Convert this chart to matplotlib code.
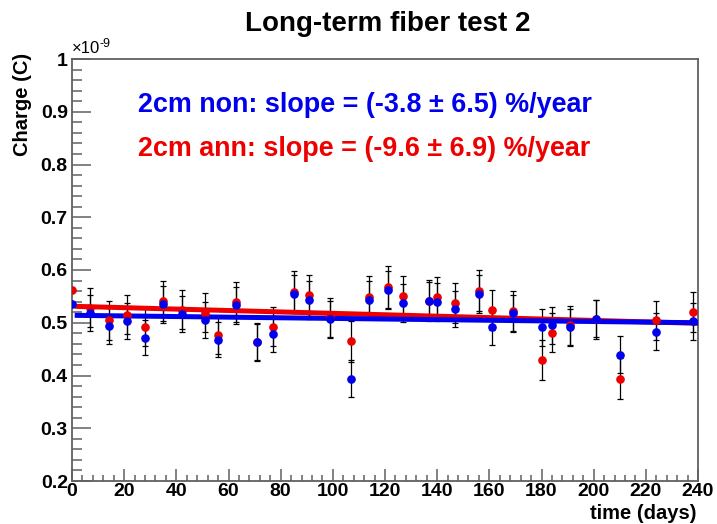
import matplotlib
matplotlib.use("Agg")
from matplotlib import pyplot as plt
from matplotlib.ticker import MultipleLocator, FuncFormatter

plt.rcParams['font.family'] = ['Liberation Sans', 'DejaVu Sans']
plt.rcParams['font.weight'] = 'bold'

# time of each measurement (days)
days = [0, 7, 14, 21, 28, 35, 42, 51, 56, 63, 71, 77, 85, 91, 99, 107,
        114, 121, 127, 137, 140, 147, 156, 161, 169, 180, 184, 191, 201, 210, 224, 238]

# charge in units of 1e-9 C
charge_non = [0.536, 0.518, 0.494, 0.503, 0.472, 0.535, 0.517, 0.505, 0.468, 0.533, 0.463, 0.478,
              0.554, 0.543, 0.507, 0.394, 0.544, 0.563, 0.538, 0.541, 0.539, 0.526, 0.554, 0.491,
              0.518, 0.491, 0.495, 0.491, 0.508, 0.439, 0.483, 0.503]
charge_ann = [0.563, 0.528, 0.505, 0.515, 0.492, 0.541, 0.525, 0.519, 0.476, 0.539, 0.463, 0.492,
              0.559, 0.552, 0.510, 0.465, 0.549, 0.568, 0.550, 0.542, 0.548, 0.537, 0.561, 0.524,
              0.523, 0.430, 0.481, 0.495, 0.507, 0.394, 0.505, 0.520]
err_non = [0.0, 0.034, 0.034, 0.034, 0.033, 0.035, 0.034, 0.034, 0.033, 0.035, 0.034, 0.034,
           0.036, 0.036, 0.035, 0.035, 0.036, 0.036, 0.036, 0.036, 0.036, 0.035, 0.036, 0.034,
           0.035, 0.035, 0.035, 0.035, 0.035, 0.035, 0.035, 0.035]
err_ann = [0.0, 0.037, 0.037, 0.037, 0.036, 0.038, 0.037, 0.037, 0.036, 0.038, 0.036, 0.037,
           0.039, 0.039, 0.037, 0.039, 0.039, 0.040, 0.039, 0.039, 0.039, 0.038, 0.039, 0.038,
           0.038, 0.038, 0.037, 0.037, 0.037, 0.039, 0.037, 0.038]

# linear fit ranges and end values
fit_days = [2, 240]
fit_non = [0.514, 0.500]
fit_ann = [0.531, 0.499]

W, H = 717, 524
fig = plt.figure(figsize=(W / 100, H / 100), dpi=100)
ax = fig.add_axes([72 / W, 1 - 481 / H, 626 / W, 422 / H])

ax.errorbar(days, charge_ann, yerr=err_ann, fmt='none', ecolor='black', elinewidth=0.9,
            capsize=2.5, capthick=0.9, zorder=2)
ax.errorbar(days, charge_non, yerr=err_non, fmt='none', ecolor='black', elinewidth=0.9,
            capsize=2.5, capthick=0.9, zorder=2)
ax.plot(fit_days, fit_ann, color='#ee0000', lw=3.6, zorder=3)
ax.plot(fit_days, fit_non, color='#0000ee', lw=3.6, zorder=4)
ax.plot(days, charge_ann, 'o', color='#ee0000', ms=5.2, zorder=5)
ax.plot(days, charge_non, 'o', color='#0000ee', ms=5.2, zorder=6)

ax.set_xlim(0, 240)
ax.set_ylim(0.2, 1.0)
ax.xaxis.set_major_locator(MultipleLocator(20))
ax.xaxis.set_minor_locator(MultipleLocator(4))
ax.yaxis.set_major_locator(MultipleLocator(0.1))
ax.yaxis.set_minor_locator(MultipleLocator(0.02))
ax.yaxis.set_major_formatter(FuncFormatter(lambda v, p: '%g' % round(v, 2)))

frame_col = '#606060'
for s in ax.spines.values():
    s.set_color(frame_col)
    s.set_linewidth(1.3)
ax.tick_params(axis='both', which='both', direction='in', colors=frame_col,
               labelcolor='black', labelsize=14, width=1.1)
ax.tick_params(axis='y', which='major', length=14, pad=3)
ax.tick_params(axis='y', which='minor', length=7)
ax.tick_params(axis='x', which='major', length=9, pad=1.5)
ax.tick_params(axis='x', which='minor', length=4.5)
for lab in ax.get_xticklabels() + ax.get_yticklabels():
    lab.set_fontweight('bold')

fig.text(388 / W, 1 - 31 / H, 'Long-term fiber test 2', ha='center', va='baseline',
         fontsize=20, fontweight='bold')
fig.text(138 / W, 1 - 112 / H, '2cm non: slope = (-3.8 \u00b1 6.5) %/year', color='#0000ee',
         ha='left', va='baseline', fontsize=19.4, fontweight='bold')
fig.text(138 / W, 1 - 156 / H, '2cm ann: slope = (-9.6 \u00b1 6.9) %/year', color='#ee0000',
         ha='left', va='baseline', fontsize=19.4, fontweight='bold')
fig.text(697 / W, 1 - 519 / H, 'time (days)', ha='right', va='baseline',
         fontsize=14.5, fontweight='bold')
fig.text(23 / W, 1 - 53 / H, 'Charge (C)', rotation=90, ha='center', va='top',
         fontsize=14.5, fontweight='bold')
fig.text(72 / W, 1 - 53 / H, '\u00d710', ha='left', va='baseline', fontsize=12,
         fontweight='normal')
fig.text(100 / W, 1 - 47 / H, '-9', ha='left', va='baseline', fontsize=9,
         fontweight='normal')

fig.savefig('out.png', dpi=100)
